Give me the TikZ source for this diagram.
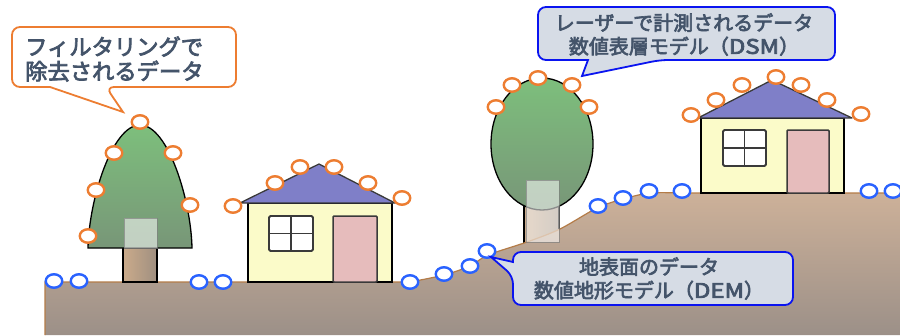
\documentclass[tikz,border=0pt]{standalone}
\usepackage{fontspec}
\newfontfamily\jpfont[FakeBold=3.2]{Noto Sans CJK JP}
\newfontfamily\jplatin[FakeBold=4, FakeStretch=1.2]{Noto Sans CJK JP}
\usetikzlibrary{shapes.geometric}

\definecolor{txt}{HTML}{44546A}
\definecolor{ptorange}{HTML}{ED7D31}
\definecolor{ptblue}{HTML}{2962FF}
\definecolor{boxblue}{HTML}{0A14F0}
\definecolor{boxfill}{HTML}{D6DCE5}
\definecolor{groundtop}{HTML}{CDB199}
\definecolor{groundbot}{HTML}{9C9088}
\definecolor{groundline}{HTML}{B47C48}
\definecolor{leaftop}{HTML}{7DBF7C}
\definecolor{leafbot}{HTML}{789678}
\definecolor{barkleft}{HTML}{CBAB8B}
\definecolor{barkright}{HTML}{9F8F80}
\definecolor{wall}{HTML}{FBFBC9}
\definecolor{roof}{HTML}{7F7FC8}
\definecolor{door}{HTML}{E6BCBC}
\definecolor{frame}{HTML}{3A3A3A}

\tikzset{
  outline/.style={draw=black, line width=1.3},
  crown/.style={outline, top color=leaftop, bottom color=leafbot},
  trunk/.style={outline, left color=barkleft, right color=barkright},
  veil/.style={fill=white, fill opacity=0.55, draw=gray, draw opacity=0.7, line width=1},
  wallbox/.style={outline, fill=wall},
  roofbox/.style={draw=frame, line width=1.3, fill=roof, line join=round},
  winbox/.style={draw=frame, line width=1.8, fill=white, rounded corners=1.5},
  doorbox/.style={draw=frame, line width=1.5, fill=door, rounded corners=1},
  surfpt/.style={ellipse, draw=ptorange, fill=white, line width=2.4,
                 minimum width=16.5, minimum height=13.5, inner sep=0pt},
  groundpt/.style={ellipse, draw=ptblue, fill=white, line width=2.4,
                 minimum width=16.5, minimum height=13.5, inner sep=0pt},
  orangecall/.style={draw=ptorange, line width=1.8, fill=white},
  bluecall/.style={draw=boxblue, line width=1.8, fill=boxfill},
  calltext/.style={text=txt, inner sep=0pt, font=\jpfont\fontsize{20}{23.5}\selectfont}
}

\begin{document}
\begin{tikzpicture}[x=1pt, y=-1pt]
\useasboundingbox (0,0) rectangle (900,335);
\fill[white] (0,0) rectangle (900,335);

% trunk of the round tree, partly hidden by the slope
\path[trunk] (524,195) rectangle (559,246);

% ground profile (flat, slope, upper terrace)
\shade[top color=groundtop, bottom color=groundbot]
  (45,335) -- (45,282) -- (410,282)
  -- plot[smooth, tension=0.5] coordinates {(410,282) (444,275) (470,266) (488,255) (527,242) (560,229) (597,208) (623,199) (650,193) (683,193)}
  -- (900,193) -- (900,335) -- cycle;
\draw[groundline, line width=1.2]
  (45,335) -- (45,282) -- (410,282)
  -- plot[smooth, tension=0.5] coordinates {(410,282) (444,275) (470,266) (488,255) (527,242) (560,229) (597,208) (623,199) (650,193) (683,193)}
  -- (900,193);

% round tree on the slope
\path[crown] (542,144) ellipse [x radius=51, y radius=66];
\path[veil] (526,180) rectangle (559,242);

% conifer on the left
\path[trunk] (123,240) rectangle (157,282);
\path[crown] (88,248) .. controls (89,200) and (112,125) .. (140,125)
  .. controls (168,125) and (191,200) .. (192,248) -- cycle;
\path[veil] (124,218) rectangle (157,248);

% house on the flat ground
\path[wallbox] (248,203) rectangle (392,282);
\path[roofbox] (240,203) -- (319,164) -- (395,203) -- cycle;
\path[winbox] (269,216) rectangle (313,251);
\draw[frame, line width=1.8] (291,216) -- (291,251) (269,233.5) -- (313,233.5);
\path[doorbox] (333,216) rectangle (377,282);

% house on the terrace
\path[wallbox] (701,118) rectangle (844,193);
\path[roofbox] (698,118) -- (772,80) -- (852,118) -- cycle;
\path[winbox] (723,130) rectangle (766,166);
\draw[frame, line width=1.8] (744.5,130) -- (744.5,166) (723,148) -- (766,148);
\path[doorbox] (787,130) rectangle (829,193);

% laser returns on trees and roofs
\foreach \n/\p in {
  t1/{(140,122)}, t2/{(114,153)}, t3/{(173,153)}, t4/{(96,190)}, t5/{(190,205)}, t6/{(88,236)},
  h1/{(233,206)}, h2/{(275,183)}, h3/{(300,167)}, h4/{(334,167)}, h5/{(368,183)}, h6/{(402,198)},
  r1/{(496,107)}, r2/{(512,85)}, r3/{(538,78)}, r4/{(572,85)}, r5/{(589,107)},
  k1/{(691,115)}, k2/{(716,100)}, k3/{(742,85)}, k4/{(776,77)}, k5/{(801,85)}, k6/{(827,100)}, k7/{(861,114)}}
  \node[surfpt] (s\n) at \p {};

% laser returns on the bare ground
\foreach \n/\p in {
  1/{(54,281)}, 2/{(79,281)}, 3/{(199,282)}, 4/{(223,282)}, 5/{(410,282)}, 6/{(444,274)}, 7/{(470,266)},
  8/{(487,251)}, 9/{(598,206)}, 10/{(623,198)}, 11/{(649,191)}, 12/{(682,191)}, 13/{(869,191)}, 14/{(893,191)}}
  \node[groundpt] (g\n) at \p {};

% callout: points removed by filtering
\coordinate (filtertip) at (123,112);
\path[orangecall] (124,27) [rounded corners=8] -- (236,27) -- (236,87) -- (106,87)
  [sharp corners] -- (filtertip) -- (50,87) [rounded corners=8] -- (12,87) -- (12,27) -- cycle;
\node[calltext, anchor=west, align=left, font=\jpfont\fontsize{22.3}{24.5}\selectfont] (filtertext) at (25,59)
  {フィルタリングで\\除去されるデータ};

% callout: digital surface model
\coordinate (dsmtip) at (582,76);
\path[bluecall] (686,7) [rounded corners=8] -- (835,7) -- (835,60) -- (660,60)
  [sharp corners] -- (dsmtip) -- (588,60) [rounded corners=8] -- (538,60) -- (538,7) -- cycle;
\node[calltext, align=center] (dsmtext) at (684,34.5)
  {レーザーで計測されるデータ\\数値表層モデル（{\jplatin DSM}）};

% callout: digital elevation model
\coordinate (demtip) at (491,257);
\path[bluecall] (653,252) [rounded corners=8] -- (793,252) -- (793,305) -- (513,305) -- (513,276)
  [sharp corners] -- (demtip) -- (513,262) [rounded corners=8] -- (513,252) -- cycle;
\node[calltext, align=center] (demtext) at (649,278.5)
  {地表面のデータ\\数値地形モデル（{\jplatin DEM}）};
\end{tikzpicture}
\end{document}
